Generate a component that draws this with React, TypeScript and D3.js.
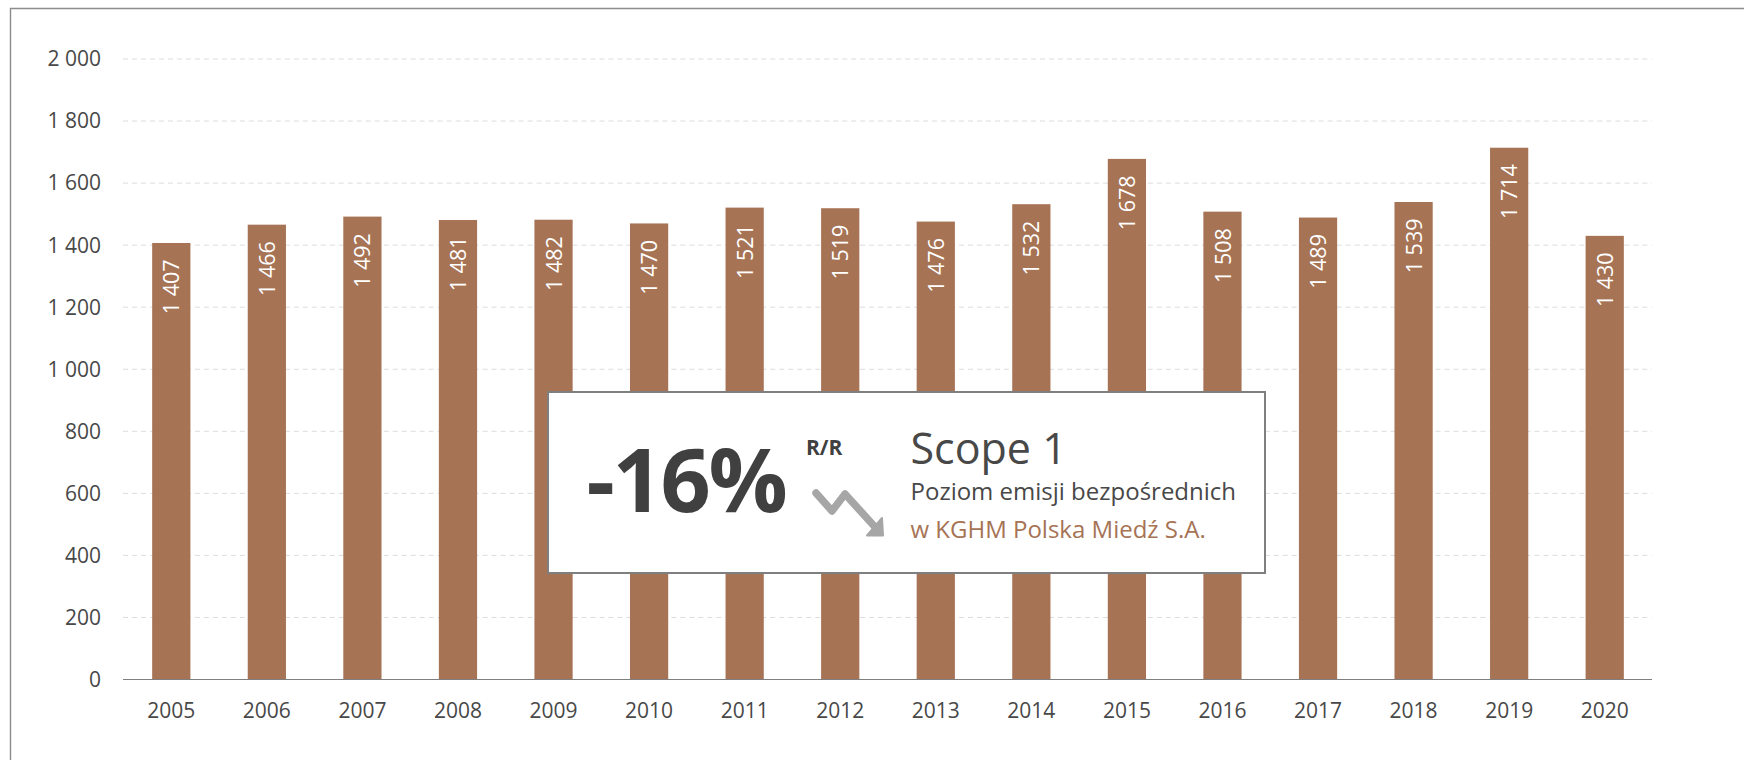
import React from "react";
import * as d3 from "d3";

const years = ["2005","2006","2007","2008","2009","2010","2011","2012","2013","2014","2015","2016","2017","2018","2019","2020"];
const emissions = [1407,1466,1492,1481,1482,1470,1521,1519,1476,1532,1678,1508,1489,1539,1714,1430];
const yTicks = [0,200,400,600,800,1000,1200,1400,1600,1800,2000];

const W = 1744, H = 760;
const FONT = "'Open Sans', sans-serif";
const TXT = "#484848";
const BAR = "#a67355";
const fmt = (v: number) => {
  const s = String(v);
  return s.length > 3 ? s.slice(0, -3) + " " + s.slice(-3) : s;
};

const x = d3.scaleBand<string>().domain(years).range([123.5, 1652.5]).paddingInner(0.6).paddingOuter(0.3);
const y = d3.scaleLinear().domain([0, 2000]).range([679.5, 59]);
const arrow = d3.line()([[816, 493], [832, 511], [845, 494], [875, 527]]) as string;

export default function App() {
  return (
    <svg width={W} height={H} style={{ position: "absolute", left: 0, top: 0, fontFamily: FONT }}>
      <rect width={W} height={H} fill="#fff" />
      <path d="M10.5 760V8.5H1744" fill="none" stroke="#8c8c8c" strokeWidth={1.4} />
      {yTicks.filter(t => t > 0).map(t => (
        <line key={t} x1={123} x2={1652} y1={y(t)} y2={y(t)} stroke="#dcdcdc" strokeWidth={1} strokeDasharray="5 3.99" />
      ))}
      {yTicks.map(t => (
        <text key={t} x={101} y={y(t)} dy="0.35em" textAnchor="end" fontSize={21} fill={TXT}>{fmt(t)}</text>
      ))}
      {years.map((yr, i) => (
        <rect key={yr} x={x(yr)} y={y(emissions[i])} width={x.bandwidth()} height={y(0) - y(emissions[i])} fill={BAR} />
      ))}
      <line x1={123} x2={1652} y1={y(0)} y2={y(0)} stroke="#7f7f7f" strokeWidth={1} />
      {years.map((yr, i) => {
        const cx = x(yr)! + x.bandwidth() / 2;
        return (
          <g key={yr}>
            <text x={cx} y={718} textAnchor="middle" fontSize={21} fill={TXT}>{yr}</text>
            <text transform={`translate(${cx + 0.5},${y(emissions[i]) + 16.5}) rotate(-90)`} textAnchor="end" dy="0.35em" fontSize={21.5} fill="#fff">{fmt(emissions[i])}</text>
          </g>
        );
      })}
      <rect x={548} y={392} width={717} height={181} fill="#fff" stroke="#7f7f7f" strokeWidth={2} />
      <text x={586.5} y={512} fontSize={88} fontWeight={700} fill="#404040" letterSpacing={-2.3}>-16%</text>
      <text x={806} y={455} fontSize={21} fontWeight={700} fill="#404040">R/R</text>
      <path d={arrow} fill="none" stroke="#a6a6a6" strokeWidth={7.5} strokeLinecap="round" strokeLinejoin="round" />
      <path d="M883 535.5L867 535.5L882 518Z" fill="#a6a6a6" stroke="#a6a6a6" strokeWidth={2} strokeLinejoin="round" />
      <text x={910.5} y={464} fontSize={43} fill={TXT}>Scope 1</text>
      <text x={910.5} y={500} fontSize={24} fill={TXT}>Poziom emisji bezpośrednich</text>
      <text x={910.5} y={538} fontSize={24} fill={BAR}>w KGHM Polska Miedź S.A.</text>
    </svg>
  );
}
